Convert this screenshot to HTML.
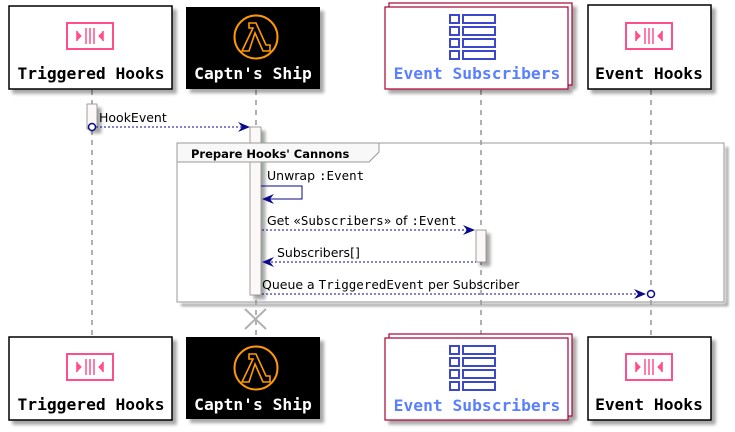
<!DOCTYPE html>
<html><head><meta charset="utf-8"><style>html,body{margin:0;padding:0;background:#fff}svg{display:block}</style></head><body>
<svg width="735" height="432" viewBox="0 0 735 432" xmlns="http://www.w3.org/2000/svg">
<defs>
<filter id="sh" x="-10%" y="-10%" width="130%" height="130%"><feGaussianBlur in="SourceAlpha" stdDeviation="1.5"/><feOffset dx="4" dy="4"/><feComponentTransfer><feFuncA type="linear" slope="0.35"/></feComponentTransfer><feMerge><feMergeNode/><feMergeNode in="SourceGraphic"/></feMerge></filter>
<filter id="bl" x="-5%" y="-5%" width="110%" height="110%"><feGaussianBlur stdDeviation="1.2"/></filter>
<g id="hook"><rect x="0" y="0" width="46" height="26" fill="none" stroke="#ff4f8b" stroke-width="2"/><path d="M10 9 L14 13 L10 17 Z" fill="#ff4f8b" stroke="#ff4f8b" stroke-width="1.2"/><line x1="10" y1="8" x2="10" y2="18" stroke="#ff4f8b" stroke-width="1.5"/><line x1="19" y1="5" x2="19" y2="21" stroke="#ff4f8b" stroke-width="1.5"/><line x1="23" y1="5" x2="23" y2="21" stroke="#ff4f8b" stroke-width="1.5"/><line x1="27" y1="5" x2="27" y2="21" stroke="#ff4f8b" stroke-width="1.5"/><path d="M36 9 L32 13 L36 17 Z" fill="#ff4f8b" stroke="#ff4f8b" stroke-width="1.2"/><line x1="36" y1="8" x2="36" y2="18" stroke="#ff4f8b" stroke-width="1.5"/></g>
<g id="lam"><circle cx="0" cy="0" r="21.5" fill="none" stroke="#f90" stroke-width="2"/><path d="M-7 -14 L0 -14 L10 8 L14 8 L14 14 L7 14 L-1 -4 L-7 14 L-14 14 L-3 -9 L-7 -9 Z" fill="none" stroke="#f90" stroke-width="1.6" stroke-linejoin="miter"/></g>
<g id="list" fill="none" stroke="#3b48cc" stroke-width="2"><rect x="0" y="0" width="9" height="8"/><rect x="13" y="0" width="32" height="8"/><rect x="0" y="12" width="9" height="8"/><rect x="13" y="12" width="32" height="8"/><rect x="0" y="24" width="9" height="8"/><rect x="13" y="24" width="32" height="8"/><rect x="0" y="36" width="9" height="8"/><rect x="13" y="36" width="32" height="8"/></g>
</defs>
<g stroke="#b0b0b0" stroke-width="2" stroke-dasharray="5,5">
<line x1="92" y1="90" x2="92" y2="336"/><line x1="256" y1="90" x2="256" y2="336"/><line x1="481" y1="90" x2="481" y2="336"/><line x1="651" y1="90" x2="651" y2="336"/>
</g>
<g font-family="'DejaVu Sans Mono','Liberation Mono',monospace" font-weight="bold" font-size="16.3" text-anchor="middle">
<g filter="url(#sh)">
<rect x="9" y="6" width="163" height="83" fill="#fff" stroke="#000" stroke-width="1.5"/>
<rect x="186" y="7" width="134" height="82" fill="#000"/>
<rect x="389" y="3" width="183" height="82" fill="#fff" stroke="#a80030" stroke-width="1.2"/>
<rect x="385" y="7" width="183" height="82" fill="#fff" stroke="#a80030" stroke-width="1.2"/>
<rect x="588" y="5" width="123" height="84" fill="#fff" stroke="#000" stroke-width="1.5"/>
<rect x="9" y="337" width="163" height="83" fill="#fff" stroke="#000" stroke-width="1.5"/>
<rect x="186" y="337" width="134" height="82" fill="#000"/>
<rect x="389" y="334" width="183" height="82" fill="#fff" stroke="#a80030" stroke-width="1.2"/>
<rect x="385" y="338" width="183" height="82" fill="#fff" stroke="#a80030" stroke-width="1.2"/>
<rect x="588" y="337" width="123" height="83" fill="#fff" stroke="#000" stroke-width="1.5"/>
</g>
<use href="#hook" x="67" y="23"/><use href="#lam" x="256" y="37"/><use href="#list" x="450" y="15"/><use href="#hook" x="626" y="23"/>
<use href="#hook" x="67" y="354"/><use href="#lam" x="256" y="368"/><use href="#list" x="450" y="346"/><use href="#hook" x="626" y="354"/>
<text x="91" y="79" fill="#000">Triggered Hooks</text>
<text x="253" y="79" fill="#fff">Captn's Ship</text>
<text x="477" y="79" fill="#5a7fff">Event Subscribers</text>
<text x="649" y="79" fill="#000">Event Hooks</text>
<text x="91" y="410" fill="#000">Triggered Hooks</text>
<text x="253" y="410" fill="#fff">Captn's Ship</text>
<text x="477" y="411" fill="#5a7fff">Event Subscribers</text>
<text x="649" y="410" fill="#000">Event Hooks</text>
</g>
<g filter="url(#sh)">
<rect x="87" y="104" width="10" height="25" fill="#fdf8f8" stroke="#888" stroke-width="0.8"/>
<rect x="250" y="127" width="11" height="168" fill="#fdf8f8" stroke="#888" stroke-width="0.8"/>
<rect x="476" y="230" width="10" height="32" fill="#fdf8f8" stroke="#888" stroke-width="0.8"/>
</g>
<path d="M181 305 L727 305 L727 147" fill="none" stroke="#999" stroke-width="2.5" filter="url(#bl)"/>
<rect x="177" y="143" width="547" height="159" fill="none" stroke="#999" stroke-width="1"/>
<path d="M177 143 L379 143 L379 152 L369 162 L177 162 Z" fill="#f8f8f8" stroke="#999" stroke-width="1"/>
<text x="191" y="158" font-family="'DejaVu Sans','Liberation Sans',sans-serif" font-weight="bold" font-size="11.5" fill="#000">Prepare Hooks' Cannons</text>
<g stroke="#b0b0b0" stroke-width="2"><line x1="245" y1="309" x2="266" y2="329"/><line x1="266" y1="309" x2="245" y2="329"/></g>
<g stroke="#0a0a8a" stroke-width="1" fill="none">
<line x1="96" y1="127" x2="248" y2="127" stroke-dasharray="2,2"/>
<circle cx="92" cy="127" r="3.5" stroke-width="1.5" fill="#fff"/>
<polyline points="261,186 302,186 302,199 263,199"/>
<line x1="262" y1="230" x2="473" y2="230" stroke-dasharray="2,2"/>
<line x1="263" y1="262" x2="476" y2="262" stroke-dasharray="2,2"/>
<line x1="262" y1="294" x2="644" y2="294" stroke-dasharray="2,2"/>
<circle cx="651" cy="294" r="3.5" stroke-width="1.5" fill="#fff"/>
</g>
<g fill="#0a0a8a">
<path d="M250 127 L238 122 L242 127 L238 132 Z"/>
<path d="M262 199 L274 194 L270 199 L274 204 Z"/>
<path d="M475 230 L463 225 L467 230 L463 235 Z"/>
<path d="M262 262 L274 257 L270 262 L274 267 Z"/>
<path d="M646 294 L634 289 L638 294 L634 299 Z"/>
</g>
<g font-family="'DejaVu Sans','Liberation Sans',sans-serif" font-size="12.5" fill="#000">
<text x="99" y="122">HookEvent</text>
<text x="267" y="180">Unwrap <tspan font-family="'DejaVu Sans Mono','Liberation Mono',monospace">:Event</tspan></text>
<text x="267" y="225">Get «<tspan font-family="'DejaVu Sans Mono','Liberation Mono',monospace">Subscribers</tspan>» of <tspan font-family="'DejaVu Sans Mono','Liberation Mono',monospace">:Event</tspan></text>
<text x="277" y="257">Subscribers[]</text>
<text x="262" y="289">Queue a <tspan font-family="'DejaVu Sans Mono','Liberation Mono',monospace">TriggeredEvent</tspan> per Subscriber</text>
</g>
</svg>
</body></html>
